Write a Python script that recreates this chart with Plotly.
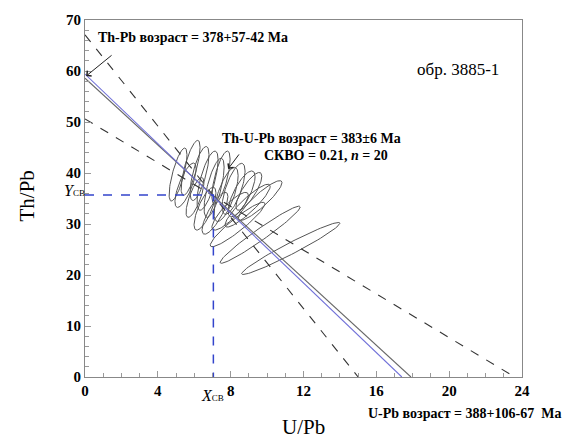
import numpy as np
import plotly.graph_objects as go

# ---- data ----
# error ellipses: centre (U/Pb, Th/Pb), half-extents, correlation
ell_x   = [5.11, 5.80, 6.29, 6.73, 7.09, 7.47, 7.75, 8.16, 8.60, 9.00,
           6.04, 6.59, 7.14, 7.97, 8.93, 9.62, 9.62, 11.30, 8.38, 5.52]
ell_y   = [39.7, 41.0, 39.9, 38.5, 37.1, 39.1, 35.8, 36.9, 35.9, 36.4,
           35.2, 33.0, 32.1, 32.5, 33.6, 34.6, 27.9, 25.2, 29.9, 37.6]
ell_sx  = [0.49, 0.52, 0.52, 0.58, 0.55, 0.50, 0.66, 0.63, 0.74, 0.71,
           0.49, 0.60, 0.71, 1.00, 1.24, 1.20, 2.20, 2.70, 1.50, 0.58]
ell_sy  = [5.2, 5.4, 5.3, 5.8, 5.8, 5.2, 5.3, 5.0, 4.5, 3.7,
           3.9, 4.2, 4.1, 3.7, 4.2, 3.9, 5.6, 5.1, 4.35, 4.35]
ell_rho = [0.75, 0.75, 0.70, 0.70, 0.70, 0.70, 0.70, 0.70, 0.75, 0.80,
           0.75, 0.75, 0.80, 0.85, 0.90, 0.90, 0.97, 0.97, 0.93, 0.75]

# regression lines: (intercept on Th/Pb axis, intercept on U/Pb axis)
fit_black = [58.6, 17.9]
fit_blue = [59.4, 17.4]
env_steep = [67.1, 15.0]
env_flat = [50.6, 23.6]
x_cb, y_cb = 7.05, 35.7

x_ticks = [0, 4, 8, 12, 16, 20, 24]
y_ticks = [0, 10, 20, 30, 40, 50, 60, 70]

SERIF = "Liberation Serif"

fig = go.Figure()

t = np.linspace(0, 2 * np.pi, 90)
for cx, cy, sx, sy, r in zip(ell_x, ell_y, ell_sx, ell_sy, ell_rho):
    ex = cx + sx * np.cos(t)
    ey = cy + sy * (r * np.cos(t) + np.sqrt(1 - r * r) * np.sin(t))
    fig.add_trace(go.Scatter(x=ex, y=ey, mode="lines",
                             line=dict(color="#555555", width=1),
                             hoverinfo="skip", showlegend=False))

def add_line(ic, color, width, dash):
    fig.add_trace(go.Scatter(x=[0, ic[1]], y=[ic[0], 0], mode="lines",
                             line=dict(color=color, width=width, dash=dash),
                             hoverinfo="skip", showlegend=False))

add_line(env_steep, "#333333", 1.1, "dash")
add_line(env_flat, "#333333", 1.1, "dash")
add_line(fit_black, "#666666", 1.1, "solid")
add_line(fit_blue, "#7070d8", 1.1, "solid")

fig.add_trace(go.Scatter(x=[0, x_cb, x_cb], y=[y_cb, y_cb, 0], mode="lines",
                         line=dict(color="#3344cc", width=1.5, dash="dash"),
                         hoverinfo="skip", showlegend=False))

ann = []
def txt(x, y, s, size=14, bold=True, xanchor="left"):
    ann.append(dict(xref="paper", yref="paper", x=x, y=y,
                    text=("<b>%s</b>" % s) if bold else s,
                    showarrow=False, xanchor=xanchor, yanchor="middle",
                    font=dict(family=SERIF, size=size, color="black")))

# paper coordinates helpers (plot area: x 85..522 px, y 15..377 px)
L, R, T, B = 85, 522, 15, 377
def px(x):
    return (x - L) / (R - L)
def py(y):
    return (B - y) / (B - T)

txt(px(96), py(33), "Th-Pb возраст = 378+57-42 Ma", 14)
txt(px(458), py(65), "обр. 3885-1", 17, bold=False, xanchor="center")
txt(px(220), py(135), "Th-U-Pb возраст = 383±6 Ma", 14)
txt(px(262), py(152), "СКВО = 0.21, <i>n</i> = 20", 14)
txt(px(366), py(414), "U-Pb возраст = 388+106-67  Ma", 14)
txt(px(199), py(396), "<i>X</i><span style='font-size:9px'>СВ</span>", 16, bold=False)
txt(px(62), py(188), "<i>Y</i><span style='font-size:9px'>СВ</span>", 16, bold=False)
txt(px(303), py(428), "U/Pb", 21, bold=False, xanchor="center")

ann.append(dict(xref="paper", yref="paper", x=px(27), y=py(194), text="Th/Pb",
                showarrow=False, textangle=-90, xanchor="center", yanchor="middle",
                font=dict(family=SERIF, size=21, color="black")))

def arrow(x, y, ax, ay):
    ann.append(dict(x=x, y=y, xref="x", yref="y", text="", showarrow=True,
                    ax=ax, ay=ay, arrowhead=4, arrowsize=1.3, arrowwidth=1,
                    arrowcolor="#222222"))

arrow(0.06, 59.0, 27, -22)
arrow(7.86, 40.8, 12, -16)
arrow(17.86, -0.6, -17, 22)

fig.update_layout(
    width=565, height=440,
    margin=dict(l=L, r=565 - R, t=T, b=440 - B),
    paper_bgcolor="white", plot_bgcolor="white",
    font=dict(family=SERIF),
    annotations=ann,
    xaxis=dict(range=[0, 24], tickvals=x_ticks, ticks="inside", ticklen=6,
               tickcolor="#999999", showline=True, linecolor="#888888",
               mirror=True, showgrid=False, zeroline=False,
               minor=dict(ticks="inside", dtick=1, ticklen=4, tickcolor="#999999"),
               tickfont=dict(family=SERIF, size=15, color="black", weight="bold")),
    yaxis=dict(range=[0, 70], tickvals=y_ticks, ticks="inside", ticklen=6,
               tickcolor="#999999", showline=True, linecolor="#888888",
               mirror=True, showgrid=False, zeroline=False,
               minor=dict(ticks="inside", dtick=2, ticklen=4, tickcolor="#999999"),
               tickfont=dict(family=SERIF, size=15, color="black", weight="bold")),
)

fig.write_html("out.html")
